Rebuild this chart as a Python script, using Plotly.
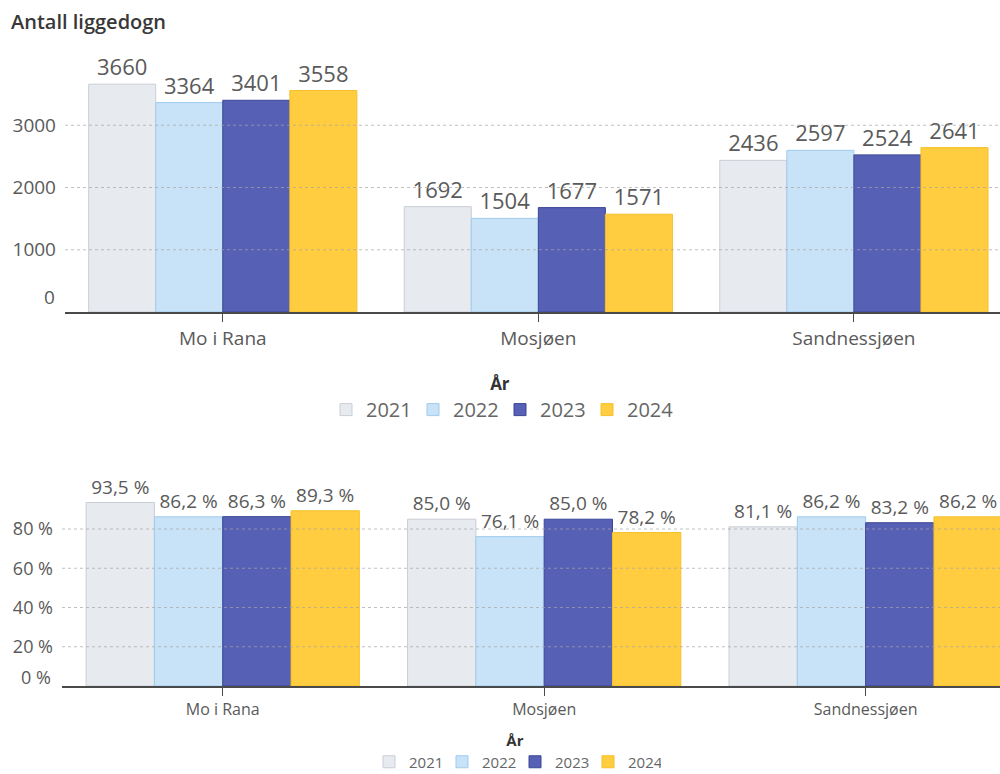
import plotly.graph_objects as go

# Data
locations = ["Mo i Rana", "Mosjøen", "Sandnessjøen"]
years = ["2021", "2022", "2023", "2024"]

liggedogn = {
    "2021": [3660, 1692, 2436],
    "2022": [3364, 1504, 2597],
    "2023": [3401, 1677, 2524],
    "2024": [3558, 1571, 2641],
}
belegg = {
    "2021": [93.5, 85.0, 81.1],
    "2022": [86.2, 76.1, 86.2],
    "2023": [86.3, 85.0, 83.2],
    "2024": [89.3, 78.2, 86.2],
}

top_ticks = [1000, 2000, 3000]
bottom_ticks = [0, 20, 40, 60, 80]

fill = {"2021": "#E7EAEE", "2022": "#C8E2F7", "2023": "#5660B4", "2024": "#FFCD3F"}
edge = {"2021": "#C9CED6", "2022": "#9FCBEE", "2023": "#3C4795", "2024": "#F5C02A"}

FONT = "Open Sans"
TXT = "#5a5a5a"
GRID = "rgba(165,165,165,0.7)"

fig = go.Figure()

for y in years:
    fig.add_trace(go.Bar(
        x=locations, y=liggedogn[y], name=y,
        marker=dict(color=fill[y], line=dict(color=edge[y], width=1)),
        texttemplate="%{y:.0f}", textposition="outside",
        textfont=dict(size=22, color=TXT, family=FONT),
        constraintext="none",
        cliponaxis=False, xaxis="x", yaxis="y", legend="legend",
        hoverinfo="skip",
    ))

for y in years:
    fig.add_trace(go.Bar(
        x=locations, y=belegg[y], name=y,
        marker=dict(color=fill[y], line=dict(color=edge[y], width=1)),
        texttemplate="%{y:.1f} %", textposition="outside",
        textfont=dict(size=19, color=TXT, family=FONT),
        constraintext="none",
        cliponaxis=False, xaxis="x2", yaxis="y2", legend="legend2",
        hoverinfo="skip",
    ))

# Dotted gridlines drawn over the bars
shapes = []
for t in top_ticks:
    shapes.append(dict(type="line", xref="x domain", yref="y", x0=0, x1=1, y0=t, y1=t,
                       line=dict(color=GRID, width=1, dash="dot"), layer="above"))
for t in bottom_ticks[1:]:
    shapes.append(dict(type="line", xref="x2 domain", yref="y2", x0=0, x1=1, y0=t, y1=t,
                       line=dict(color=GRID, width=1, dash="dot"), layer="above"))

annotations = [
    dict(text="Antall liggedogn", xref="paper", yref="paper", x=0.009, y=1 - 21 / 774,
         xanchor="left", yanchor="middle", showarrow=False,
         font=dict(size=20, color="#383838", family=FONT, weight=600)),
    dict(text="0", xref="paper", yref="y", x=57 / 1000, y=0, xanchor="right", yanchor="middle",
         yshift=15, showarrow=False, font=dict(size=19, color=TXT, family=FONT)),
    dict(text="0 %", xref="paper", yref="y2", x=53 / 1000, y=0, xanchor="right", yanchor="middle",
         yshift=9, showarrow=False, font=dict(size=18, color=TXT, family=FONT)),
]

H = 774.0
fig.update_layout(
    width=1000, height=774,
    margin=dict(l=0, r=0, t=0, b=0, autoexpand=False),
    paper_bgcolor="white", plot_bgcolor="white",
    barmode="group", bargap=0.15, bargroupgap=0,
    separators=", ",
    font=dict(family=FONT, color=TXT),
    showlegend=True,
    xaxis=dict(domain=[0.065, 1.0], range=[-0.5, 2.463], showline=True, linecolor="#4a4a4a",
               linewidth=2, ticks="outside", ticklen=8, tickcolor="#4a4a4a", tickwidth=1,
               tickfont=dict(size=19, color=TXT, family=FONT), showgrid=False, anchor="y",
               automargin=False, fixedrange=True),
    yaxis=dict(domain=[1 - 312 / H, 1 - 63 / H], range=[0, 4000], tickvals=top_ticks,
               ticktext=[str(t) for t in top_ticks], showgrid=False, zeroline=False,
               tickfont=dict(size=19, color=TXT, family=FONT), ticklabelstandoff=8,
               automargin=False, anchor="x"),
    xaxis2=dict(domain=[0.062, 1.0], range=[-0.5, 2.418], showline=True, linecolor="#4a4a4a",
                linewidth=2, ticks="outside", ticklen=8, tickcolor="#4a4a4a", tickwidth=1,
                tickfont=dict(size=16, color=TXT, family=FONT), showgrid=False,
                automargin=False, anchor="y2"),
    yaxis2=dict(domain=[1 - 686 / H, 1 - 489.75 / H], range=[0, 100], tickvals=bottom_ticks[1:],
                ticktext=[f"{t} %" for t in bottom_ticks[1:]], showgrid=False, zeroline=False,
                tickfont=dict(size=18, color=TXT, family=FONT), ticklabelstandoff=8,
                automargin=False, anchor="x2"),
    legend=dict(orientation="h", x=0.50, xanchor="center", y=1 - 368 / H, yanchor="top",
                title=dict(text="<b>År</b>", side="top center",
                           font=dict(size=17, color="#333333", family=FONT)),
                font=dict(size=20, color="#666666", family=FONT), traceorder="normal",
                entrywidth=42, entrywidthmode="pixels"),
    legend2=dict(orientation="h", x=0.515, xanchor="center", y=-4 / H, yanchor="bottom",
                 title=dict(text="<b>År</b>", side="top center",
                            font=dict(size=15, color="#333333", family=FONT)),
                 font=dict(size=15, color="#666666", family=FONT), traceorder="normal",
                 entrywidth=28, entrywidthmode="pixels"),
    shapes=shapes,
    annotations=annotations,
)

fig.write_html("out.html")
